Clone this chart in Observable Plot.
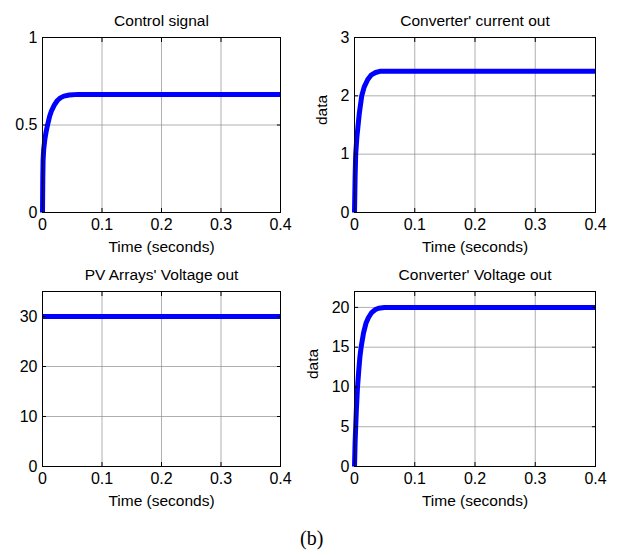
<!DOCTYPE html>
<html>
<head>
<meta charset="utf-8">
<script src="https://cdn.jsdelivr.net/npm/d3@7"></script>
<script src="https://cdn.jsdelivr.net/npm/@observablehq/plot@0.6"></script>
<style>
  html, body { margin: 0; padding: 0; background: #fff; }
  #wrap { position: relative; width: 617px; height: 555px; background: #fff; overflow: hidden; }
  .panel { position: absolute; }
  #cap { position: absolute; left: 300px; top: 527px; font-family: "Liberation Serif", "Times New Roman", serif; font-size: 20px; color: #000; }
</style>
</head>
<body>
<div id="wrap">
  <div class="panel" id="p1" style="left:0px;top:0px"></div>
  <div class="panel" id="p2" style="left:300px;top:0px"></div>
  <div class="panel" id="p3" style="left:0px;top:255px"></div>
  <div class="panel" id="p4" style="left:300px;top:255px"></div>
  <div id="cap">(b)</div>
</div>
<script>
// ---- data ----
const xTicks = [0, 0.1, 0.2, 0.3, 0.4];

const ctrlTime = [0, 0.0005, 0.001, 0.002, 0.004, 0.006, 0.0085, 0.012, 0.015, 0.02, 0.025, 0.03, 0.036, 0.045, 0.06, 0.1, 0.2, 0.3, 0.4];
const ctrlValue = [0, 0.2, 0.3, 0.36, 0.42, 0.46, 0.5, 0.55, 0.58, 0.615, 0.64, 0.655, 0.665, 0.671, 0.675, 0.675, 0.675, 0.675, 0.675];
const ctrlTicks = [0, 0.5, 1];

const curTime = [0, 0.001, 0.002, 0.003, 0.004, 0.0055, 0.008, 0.012, 0.016, 0.022, 0.028, 0.035, 0.042, 0.05, 0.1, 0.2, 0.3, 0.4];
const curValue = [0, 0.6, 1.0, 1.15, 1.3, 1.45, 1.7, 2.0, 2.15, 2.28, 2.36, 2.4, 2.42, 2.42, 2.42, 2.42, 2.42, 2.42];
const curTicks = [0, 1, 2, 3];

const pvTime = [0, 0.1, 0.2, 0.3, 0.4];
const pvValue = [30, 30, 30, 30, 30];
const pvTicks = [0, 10, 20, 30];

const vTime = [0, 0.001, 0.002, 0.003, 0.005, 0.007, 0.009, 0.011, 0.015, 0.019, 0.023, 0.028, 0.034, 0.04, 0.05, 0.1, 0.2, 0.3, 0.4];
const vValue = [0, 3, 5, 7, 10, 12, 13.8, 15, 16.8, 18, 18.7, 19.3, 19.7, 19.9, 20, 20, 20, 20, 20];
const vTicks = [0, 5, 10, 15, 20];

const titles = ["Control signal", "Converter' current out", "PV Arrays' Voltage out", "Converter' Voltage out"];
const xLabel = "Time (seconds)";
const yLabel = "data";

// ---- drawing ----
const FONT = "'Liberation Sans', Arial, sans-serif";
const FS = 16;

function panel(el, {time, value, yDomain, yTicks, title, ylab, width, height, mL, mR, mT, mB, ylabOffset}) {
  const data = time.map((t, i) => ({t, v: value[i]}));
  const marks = [
    Plot.gridX(xTicks, {stroke: "#8c8c8c", strokeOpacity: 1, strokeWidth: 0.7}),
    Plot.gridY(yTicks, {stroke: "#8c8c8c", strokeOpacity: 1, strokeWidth: 0.7}),
    Plot.line(data, {x: "t", y: "v", stroke: "#0000ff", strokeWidth: 5, strokeLinejoin: "round", strokeLinecap: "butt"}),
    Plot.frame({stroke: "#000", strokeWidth: 1}),
    Plot.axisX(xTicks, {anchor: "bottom", tickSize: -4, tickPadding: 10, label: null, tickFormat: d => String(d), fontSize: FS, stroke: "#000"}),
    Plot.axisX(xTicks, {anchor: "top", tickSize: -4, label: null, tickFormat: () => "", stroke: "#000"}),
    Plot.axisY(yTicks, {anchor: "left", tickSize: -4, tickPadding: 9, label: null, tickFormat: d => String(d), fontSize: FS, stroke: "#000"}),
    Plot.axisY(yTicks, {anchor: "right", tickSize: -4, label: null, tickFormat: () => "", stroke: "#000"}),
    Plot.text([title], {frameAnchor: "top", dy: -23, text: d => d, fontSize: 15.5, fill: "#000"}),
    Plot.text([xLabel], {frameAnchor: "bottom", dy: 39, text: d => d, fontSize: 15.5, fill: "#000"})
  ];
  if (ylab) {
    marks.push(Plot.text([ylab], {frameAnchor: "left", dx: -ylabOffset, rotate: -90, text: d => d, fontSize: 15.5, fill: "#000"}));
  }
  const chart = Plot.plot({
    width, height,
    marginLeft: mL, marginRight: mR, marginTop: mT, marginBottom: mB,
    style: {fontFamily: FONT, fontSize: FS + "px", color: "#000", background: "transparent", overflow: "visible"},
    x: {domain: [0, 0.4]},
    y: {domain: yDomain},
    marks
  });
  document.getElementById(el).appendChild(chart);
}

panel("p1", {time: ctrlTime, value: ctrlValue, yDomain: [0, 1], yTicks: ctrlTicks, title: titles[0], ylab: null,
  width: 300, height: 255, mL: 42, mR: 20, mT: 37, mB: 43});
panel("p2", {time: curTime, value: curValue, yDomain: [0, 3], yTicks: curTicks, title: titles[1], ylab: yLabel, ylabOffset: 32,
  width: 317, height: 255, mL: 54, mR: 22, mT: 37, mB: 43});
panel("p3", {time: pvTime, value: pvValue, yDomain: [0, 35], yTicks: pvTicks, title: titles[2], ylab: null,
  width: 300, height: 270, mL: 42, mR: 20, mT: 36, mB: 59});
panel("p4", {time: vTime, value: vValue, yDomain: [0, 22], yTicks: vTicks, title: titles[3], ylab: yLabel, ylabOffset: 41,
  width: 317, height: 270, mL: 54, mR: 22, mT: 36, mB: 59});
</script>
</body>
</html>
